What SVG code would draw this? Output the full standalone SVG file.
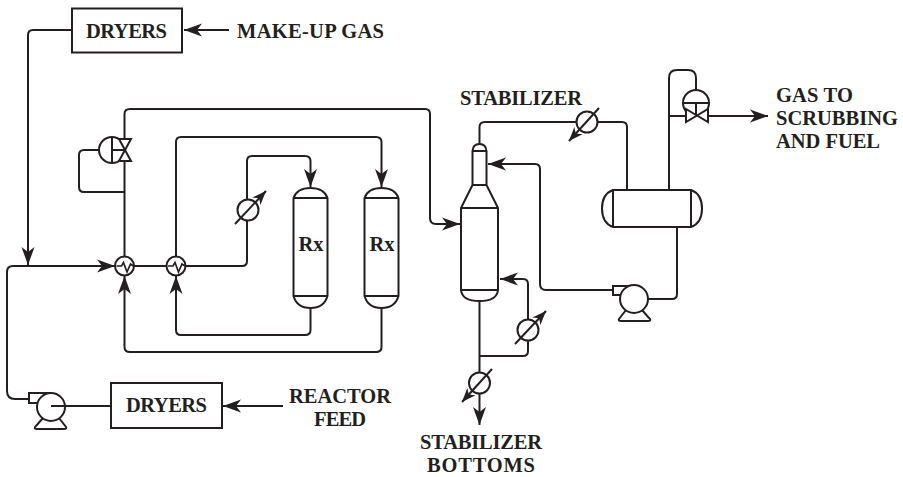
<svg xmlns="http://www.w3.org/2000/svg" width="903" height="477" viewBox="0 0 903 477">
<style>
.l{fill:none;stroke:#231f20;stroke-width:2}
.s{fill:#fff;stroke:#231f20;stroke-width:2}
.t{font-family:"Liberation Serif",serif;font-weight:700;font-size:20.5px;fill:#231f20}
</style>
<defs>
<marker id="a" markerUnits="userSpaceOnUse" markerWidth="24" markerHeight="20" refX="20" refY="10" orient="auto"><path d="M20,10 L2,3.500 L7,10 L2,16.500 Z" fill="#231f20"/></marker>
<marker id="b" markerUnits="userSpaceOnUse" markerWidth="18" markerHeight="16" refX="15" refY="8" orient="auto"><path d="M15,8 L1,2.500 L5,8 L1,13.500 Z" fill="#231f20"/></marker>
<g id="hx"><circle r="9.500" class="s"/><path d="M-8,0 H-3 L-1,-3.500 L2.500,6 L6,-2 L9,0" fill="none" stroke="#231f20" stroke-width="1.700"/></g>
<g id="cool"><circle r="10.500" class="s"/></g>
</defs>
<g id="connectors">
<path class="l" d="M72,30 H33 Q28,30 28,35 V265" marker-end="url(#a)"/>
<path class="l" d="M229,30 H184" marker-end="url(#a)"/>
<path class="l" d="M29,399 H15 Q7,399 7,391 V272 Q7,266 13,266 H115" marker-end="url(#a)"/>
<path class="l" d="M51,406 H111"/>
<path class="l" d="M283,406 H223" marker-end="url(#a)"/>
<path class="l" d="M124.500,256 V114 Q124.500,109 130,109 H425 Q430,109 430,114 V218 Q430,224 436,224 H460" marker-end="url(#a)"/>
<path class="l" d="M99,150 H84 Q79,150 79,155 V187 Q79,192 84,192 H124"/>
<path class="l" d="M176,256 V142 Q176,137 181,137 H376 Q381.500,137 381.500,142 V187" marker-end="url(#a)"/>
<path class="l" d="M134,266 H166 M186,266 H242 Q247,266 247,261 V161 Q247,156 252,156 H305 Q310.500,156 310.500,161 V187" marker-end="url(#a)"/>
<path class="l" d="M310.500,308 V330 Q310.500,335 305,335 H181 Q176,335 176,330 V276" marker-end="url(#a)"/>
<path class="l" d="M381.500,308 V347 Q381.500,352 376,352 H130 Q124.500,352 124.500,347 V276" marker-end="url(#a)"/>
<path class="l" d="M479.500,144 V127 Q479.500,122 485,122 H622 Q627,122 627,127 V190"/>
<path class="l" d="M613,290 H546 Q540,290 540,284 V169 Q540,164 535,164 H488" marker-end="url(#a)"/>
<path class="l" d="M677,227 V294 Q677,299 672,299 H648"/>
<path class="l" d="M669,190 V78 Q669,70 677,70 H688 Q696,70 696,78 V91"/>
<path class="l" d="M669,116 H686 M708,116 H768" marker-end="url(#a)"/>
<path class="l" d="M479.500,301 V425" marker-end="url(#a)"/>
<path class="l" d="M479.500,356 H523 Q528,356 528,351 V284 Q528,279 523,279 H500" marker-end="url(#a)"/>
</g>
<g id="valve-1">
<circle class="s" cx="112" cy="150" r="13"/>
<path class="l" d="M112,137 V163 M112,150 H124"/>
<path class="s" d="M119,139 H131 L119,161 H131 Z"/>
</g>
<g id="valve-2">
<circle class="s" cx="696" cy="103" r="13"/>
<path class="l" d="M683,103 H709 M696,103 V116"/>
<path class="s" d="M686,109 L708,122 V109 L686,122 Z"/>
</g>
<g id="hx-1"><use href="#hx" x="124.500" y="266"/></g>
<g id="hx-2"><use href="#hx" x="176" y="266"/></g>
<g id="cooler-1"><use href="#cool" x="248" y="210"/><path class="l" d="M235,224 L266,191" marker-end="url(#b)"/></g>
<g id="cooler-2"><use href="#cool" x="587" y="122"/><path class="l" d="M599,108 L569,141" marker-end="url(#b)"/></g>
<g id="cooler-3"><use href="#cool" x="528" y="330"/><path class="l" d="M515,344 L546,311" marker-end="url(#b)"/></g>
<g id="cooler-4"><use href="#cool" x="479.500" y="383"/><path class="l" d="M492,369 L462,402" marker-end="url(#b)"/></g>
<g id="reactor-1">
<path class="s" d="M293.500,198 Q297,188 310.500,188 Q324,188 327.500,198 V296 Q324,308 310.500,308 Q297,308 293.500,296 Z"/>
<path class="l" d="M293.500,198 H327.500 M293.500,296 H327.500"/>
<text class="t" x="298.500" y="251" textLength="25" lengthAdjust="spacingAndGlyphs" style="font-size:21.500px">Rx</text>
</g>
<g id="reactor-2">
<path class="s" d="M364.500,198 Q368,188 381.500,188 Q395,188 398.500,198 V296 Q395,308 381.500,308 Q368,308 364.500,296 Z"/>
<path class="l" d="M364.500,198 H398.500 M364.500,296 H398.500"/>
<text class="t" x="369.500" y="251" textLength="25" lengthAdjust="spacingAndGlyphs" style="font-size:21.500px">Rx</text>
</g>
<g id="stabilizer">
<path class="s" d="M472.500,151 Q473,144 479.500,144 Q486,144 486.500,151 V185 L498,208 V290 Q497,301 479.500,301 Q462,301 461,290 V208 L472.500,185 Z"/>
<path class="l" d="M472.500,151 H486.500 M472.500,185 H486.500 M461,208 H498 M461,290 H498"/>
</g>
<g id="drum">
<path class="s" d="M613,190 H691 Q702,194 702,208.500 Q702,223 691,227 H613 Q602,223 602,208.500 Q602,194 613,190 Z"/>
<path class="l" d="M613,190 V227 M691,190 V227"/>
</g>
<g id="pump-1">
<path class="s" d="M43,418 L35,427 Q34,429 37,429 H64 Q67,429 66,427 L59,418"/>
<path class="s" d="M29,393 H51 V403 H29 Z"/>
<circle class="s" cx="51" cy="407" r="14"/>
<path class="l" d="M51,406 H65"/>
</g>
<g id="pump-2">
<path class="s" d="M626,310 L619,319 Q618,321 621,321 H648 Q651,321 650,319 L642,310"/>
<path class="s" d="M613,286 H634 V295 H613 Z"/>
<circle class="s" cx="634" cy="299" r="14"/>
</g>
<g id="dryers-1"><rect class="s" x="72" y="8.500" width="110" height="44"/><text class="t" x="86" y="38" textLength="81">DRYERS</text></g>
<g id="dryers-2"><rect class="s" x="111" y="383" width="111" height="45"/><text class="t" x="126" y="412" textLength="81">DRYERS</text></g>
<g id="labels">
<text class="t" x="237" y="38" textLength="147">MAKE-UP GAS</text>
<text class="t" x="460" y="105" textLength="122">STABILIZER</text>
<text class="t" x="776" y="102" textLength="77">GAS TO</text>
<text class="t" x="776" y="125" textLength="122">SCRUBBING</text>
<text class="t" x="776" y="148" textLength="104">AND FUEL</text>
<text class="t" x="289" y="403" textLength="102">REACTOR</text>
<text class="t" x="314" y="426" textLength="52">FEED</text>
<text class="t" x="420" y="449" textLength="122">STABILIZER</text>
<text class="t" x="427" y="472" textLength="108">BOTTOMS</text>
</g>
</svg>
